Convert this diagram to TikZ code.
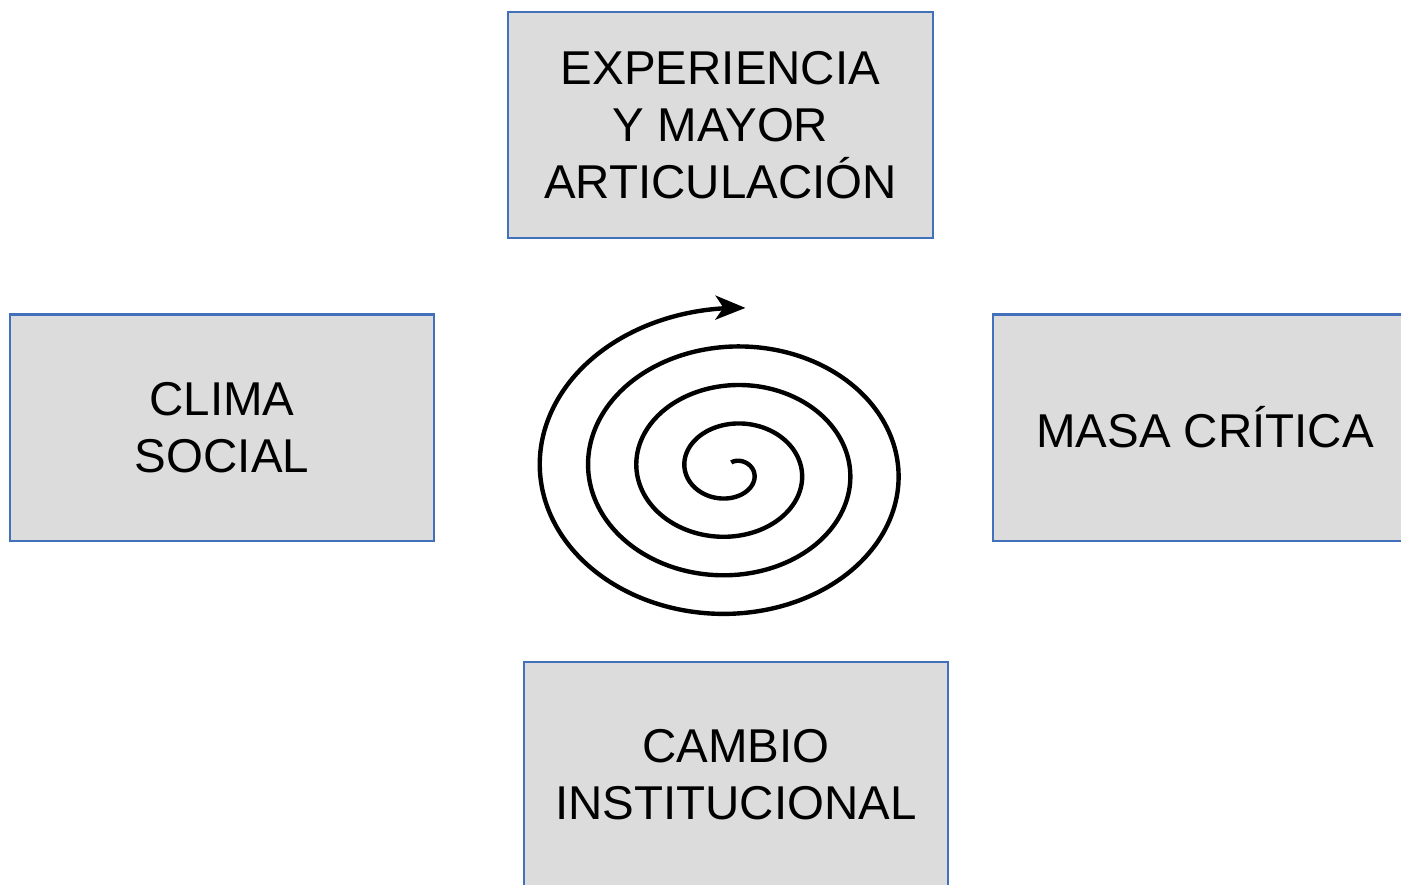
\documentclass[tikz,border=0pt]{standalone}
\usepackage{fontspec}
\setmainfont{Liberation Sans}
\usepackage{tikz}
\usetikzlibrary{arrows.meta}

\definecolor{boxfill}{RGB}{220,220,220}
\definecolor{boxline}{RGB}{66,112,186}

\tikzset{
  factor/.style={draw=boxline, line width=0.6pt, fill=boxfill, rectangle,
    minimum width=4.24cm, minimum height=2.26cm, align=center,
    font=\fontsize{13.5}{16.2}\selectfont, inner sep=0pt}
}

\begin{document}
\begin{tikzpicture}[x=0.01cm, y=-0.01cm]
        % Canvas
        \useasboundingbox (0,0) rectangle (1401,884);

        % Top box
        \node[factor] (experiencia) at (720.5,125) {EXPERIENCIA\\Y MAYOR\\ARTICULACIÓN};

        % Left box
        \node[factor] (clima) at (222,427.5) {CLIMA\\SOCIAL};

        % Right box (runs past the edge)
        \node[factor] (masa) at (1205,427.5) {MASA CRÍTICA};

        % Bottom box (runs past the edge)
        \node[factor] (cambio) at (736,775) {CAMBIO\\INSTITUCIONAL};

        % Spiral with arrow at its outer end
        \draw[line width=1.25pt, -{Stealth[length=3mm, width=2.4mm, inset=0.8mm]}]
          plot[domain=270:1714, samples=400, smooth, variable=\t]
          ({731.25 + 0.1343*(\t-195)*cos(\t)}, {470.5 + 0.1073*(\t-195)*sin(\t)});
    \end{tikzpicture}
\end{document}
